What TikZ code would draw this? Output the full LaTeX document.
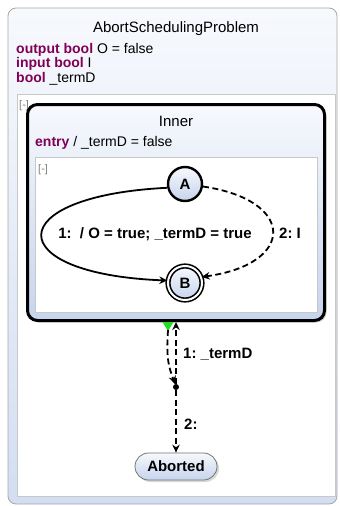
\documentclass[tikz,border=0pt]{standalone}
\usepackage{fontspec}
\setmainfont{Liberation Sans}
\usetikzlibrary{arrows.meta,calc,shadows}
\definecolor{kw}{HTML}{7F0055}
\definecolor{outerborder}{HTML}{A8A8A8}
\definecolor{regionborder}{HTML}{C8C8C8}
\definecolor{bluetop}{HTML}{F7F9FD}
\definecolor{bluebot}{HTML}{D3DEF2}
\definecolor{nodetop}{HTML}{F6F8FD}
\definecolor{nodebot}{HTML}{C6D4ED}
\definecolor{trigreen}{HTML}{22DD22}
\newcommand{\kwd}[1]{\textbf{\textcolor{kw}{#1}}}
\frenchspacing
\begin{document}
\begin{tikzpicture}[x=1pt,y=-1pt,
  txt/.style={inner sep=0pt, font=\fontsize{14}{16}\selectfont},
  ttl/.style={inner sep=0pt, font=\fontsize{15}{18}\selectfont},
  lbl/.style={inner sep=0pt, font=\bfseries\fontsize{15}{18}\selectfont},
  fold/.style={inner sep=0pt, text=gray, font=\fontsize{11}{13}\selectfont},
  region/.style={draw=regionborder, fill=white, inner sep=0pt, line width=0.8pt},
  statenode/.style={circle, draw=black, line width=2.4pt, top color=nodetop, bottom color=nodebot,
     font=\bfseries\fontsize{15}{18}\selectfont, inner sep=0pt},
  trans/.style={line width=1.8pt, -{Stealth[length=8pt,width=7.5pt]}},
  dashtrans/.style={trans, dash pattern=on 6pt off 3.5pt},
]
\useasboundingbox (0,0) rectangle (340,506);
% outer state
\node[draw=outerborder, rounded corners=8pt, top color=bluetop, bottom color=bluebot,
      minimum width=329pt, minimum height=496pt, inner sep=0pt, line width=0.8pt] (Outer) at (172.5,256) {};
\node[ttl, anchor=base] (title) at (176,32) {AbortSchedulingProblem};
\node[txt, anchor=base west] (d1) at (16,53) {\kwd{output bool} O = false};
\node[txt, anchor=base west] (d2) at (16,67.5) {\kwd{input bool} I};
\node[txt, anchor=base west] (d3) at (16,82) {\kwd{bool} \_termD};
\node[region, minimum width=318pt, minimum height=402pt] (Region) at (176,295) {};
\node[fold, anchor=base west] (f1) at (19,108) {[-]};
% Inner superstate
\node[draw=black, line width=3pt, rounded corners=10pt, top color=bluetop, bottom color=nodebot,
      minimum width=297pt, minimum height=216pt, inner sep=0pt,
      drop shadow={shadow xshift=2pt, shadow yshift=-2pt, opacity=0.35}] (Inner) at (176,212.5) {};
\node[ttl, anchor=base] (innertitle) at (176,126) {Inner};
\node[txt, anchor=base west] (entry) at (35,146) {\kwd{entry} / \_termD = false};
\node[region, minimum width=282pt, minimum height=155pt] (IRegion) at (176,234.5) {};
\node[fold, anchor=base west] (f2) at (38,172) {[-]};
% states
\node[statenode, minimum size=34pt] (A) at (185,184) {A};
\node[statenode, minimum size=34pt, line width=1.6pt, double=white, double distance=2pt] (B) at (185,283) {B};
% inner transitions
\draw[trans] (A.192) .. controls (0,196) and (0,274) .. (B.172);
\node[lbl, anchor=base] (l1) at (155,238) {1:~ / O = true; \_termD = true};
\draw[dashtrans] (A.-8) .. controls (296,200) and (296,264) .. (B.20);
\node[lbl, anchor=base west] (l2) at (279,238) {2: I};
% bottom part
\coordinate (T) at ($(Inner.south)+(-8,0)$);
\fill[trigreen] ($(T)+(-5.5,0)$) -- ($(T)+(5.5,0)$) -- ($(T)+(0,9)$) -- cycle;
\node[circle, fill=black, inner sep=0pt, minimum size=6pt] (J) at (176,387) {};
\coordinate (Ttip) at ($(T)+(0,8)$);
\draw[dashtrans] (Ttip) .. controls ($(Ttip)+(-2,30)$) and ($(J)+(-7,-20)$) .. (J);
\draw[dashtrans] (J) -- (J |- Inner.south);
\node[lbl, anchor=base west] (l3) at (183,358) {1: \_termD};
\node[draw=black!55, line width=0.8pt, rounded corners=13.5pt, top color=nodetop, bottom color=nodebot,
      minimum width=82pt, minimum height=27pt, inner sep=0pt,
      font=\bfseries\fontsize{15}{18}\selectfont,
      drop shadow={shadow xshift=2pt, shadow yshift=-2pt, opacity=0.3}] (Aborted) at (176,466.5) {Aborted};
\draw[dashtrans] (J) -- (Aborted);
\node[lbl, anchor=base west] (l4) at (184,429) {2:};
\end{tikzpicture}
\end{document}
